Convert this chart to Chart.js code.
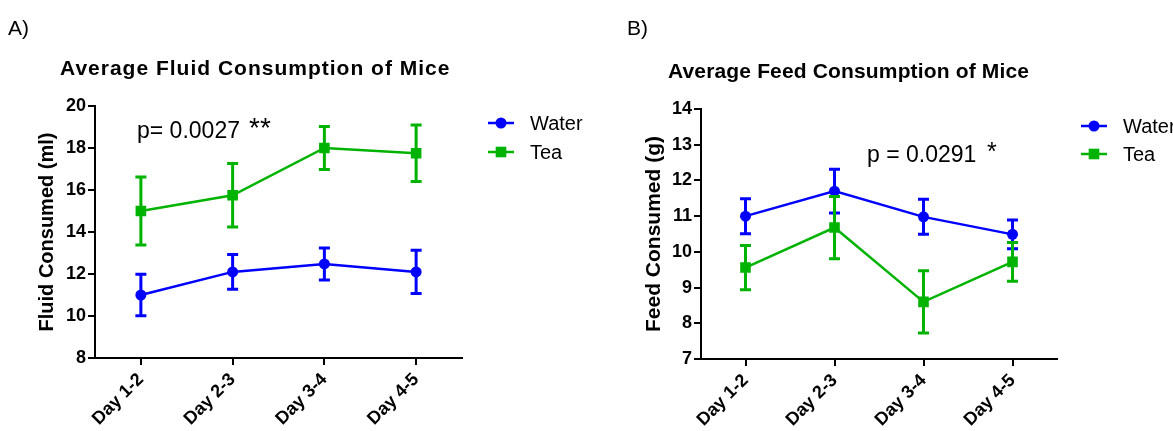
<!DOCTYPE html>
<html>
<head>
<meta charset="utf-8">
<script src="https://cdn.jsdelivr.net/npm/chart.js@4/dist/chart.umd.min.js"></script>
<style>
  body { margin: 0; background: #fff; }
  #wrap { position: relative; width: 1173px; height: 431px; overflow: hidden; font-family: 'Liberation Sans', Arial, sans-serif; }
  canvas { position: absolute; left: 0; top: 0; }
  .lbl { position: absolute; white-space: nowrap; line-height: 1; color: #000; }
  .panel { font-size: 21px; }
  .title { font-size: 21px; font-weight: bold; }
</style>
</head>
<body>
<div id="wrap">
  <canvas id="fluidChart" width="1173" height="431"></canvas>
  <canvas id="feedChart" width="1173" height="431"></canvas>
  <div class="lbl panel" style="left:8px; top:17px;">A)</div>
  <div class="lbl panel" style="left:627px; top:17px;">B)</div>
  <div class="lbl title" style="left:60px; top:57px; letter-spacing:1px;">Average Fluid Consumption of Mice</div>
  <div class="lbl title" style="left:668px; top:60px; letter-spacing:0.15px;">Average Feed Consumption of Mice</div>
</div>
<script>
const categories = ['Day 1-2', 'Day 2-3', 'Day 3-4', 'Day 4-5'];

// A) fluid (ml), mean and error bar half-length
const fluidWater = [11.0, 12.1, 12.48, 12.1];
const fluidWaterErr = [0.99, 0.83, 0.76, 1.03];
const fluidTea = [15.0, 15.75, 18.0, 17.75];
const fluidTeaErr = [1.62, 1.51, 1.02, 1.34];
const fluidTicks = [8, 10, 12, 14, 16, 18, 20];

// B) feed (g)
const feedWater = [11.0, 11.7, 10.98, 10.49];
const feedWaterErr = [0.49, 0.61, 0.49, 0.40];
const feedTea = [9.56, 10.68, 8.60, 9.72];
const feedTeaErr = [0.62, 0.87, 0.87, 0.54];
const feedTicks = [7, 8, 9, 10, 11, 12, 13, 14];

const BLUE = '#0000ff';
const GREEN = '#00b300';
const FONT = "'Liberation Sans', Arial, sans-serif";

// error bars, drawn right after each dataset so layering follows dataset order
const errorBars = {
  id: 'errorBars',
  afterDatasetDraw(chart, args) {
    const ds = chart.data.datasets[args.index];
    if (!ds.errors) return;
    const { ctx } = chart;
    const x = chart.scales.x, y = chart.scales.y;
    ctx.save();
    ctx.strokeStyle = ds.borderColor;
    ctx.lineWidth = 3;
    ds.data.forEach((v, i) => {
      const px = x.getPixelForValue(i);
      const top = y.getPixelForValue(v + ds.errors[i]);
      const bot = y.getPixelForValue(v - ds.errors[i]);
      ctx.beginPath();
      ctx.moveTo(px, top); ctx.lineTo(px, bot);
      ctx.moveTo(px - 5.5, top); ctx.lineTo(px + 5.5, top);
      ctx.moveTo(px - 5.5, bot); ctx.lineTo(px + 5.5, bot);
      ctx.stroke();
    });
    ctx.restore();
  }
};

// legend with line + marker, like the original
const lineLegend = {
  id: 'lineLegend',
  afterDraw(chart, args, opts) {
    const { ctx } = chart;
    ctx.save();
    chart.data.datasets.forEach((ds, i) => {
      const cy = opts.y + i * opts.gap;
      ctx.strokeStyle = ds.borderColor;
      ctx.lineWidth = 2.5;
      ctx.beginPath();
      ctx.moveTo(opts.x - 13, cy);
      ctx.lineTo(opts.x + 13, cy);
      ctx.stroke();
      ctx.fillStyle = ds.borderColor;
      Chart.helpers.drawPoint(ctx, { pointStyle: ds.pointStyle, radius: ds.pointRadius, rotation: 0, borderWidth: 0 }, opts.x, cy);
      ctx.fillStyle = '#000';
      ctx.font = '20px ' + FONT;
      ctx.textBaseline = 'middle';
      ctx.fillText(ds.label, opts.x + 29, cy + 1);
    });
    ctx.restore();
  }
};

const pText = {
  id: 'pText',
  afterDraw(chart, args, opts) {
    const { ctx } = chart;
    ctx.save();
    ctx.fillStyle = '#000';
    ctx.textBaseline = 'alphabetic';
    opts.items.forEach(t => {
      ctx.font = t.size + 'px ' + FONT;
      ctx.fillText(t.text, t.x, t.y);
    });
    ctx.restore();
  }
};

function makeChart(id, cfg) {
  const ctx = document.getElementById(id).getContext('2d');
  return new Chart(ctx, {
    type: 'line',
    data: {
      labels: categories,
      datasets: [
        {
          label: 'Water',
          data: cfg.water,
          errors: cfg.waterErr,
          borderColor: BLUE,
          backgroundColor: BLUE,
          borderWidth: 2.5,
          pointStyle: 'circle',
          pointRadius: 5.5,
          pointBorderWidth: 0,
          order: 1,
        },
        {
          label: 'Tea',
          data: cfg.tea,
          errors: cfg.teaErr,
          borderColor: GREEN,
          backgroundColor: GREEN,
          borderWidth: 2.5,
          pointStyle: 'rect',
          pointRadius: 7.5,
          pointBorderWidth: 0,
          order: 0,
        },
      ],
    },
    options: {
      responsive: false,
      animation: false,
      devicePixelRatio: 1,
      layout: { padding: cfg.padding },
      plugins: {
        legend: { display: false },
        tooltip: { enabled: false },
        lineLegend: cfg.legend,
        pText: { items: cfg.notes },
      },
      scales: {
        x: {
          type: 'category',
          offset: true,
          afterFit: (s) => { s.height = cfg.xHeight; },
          border: { display: true, color: '#000', width: 2 },
          grid: { offset: false, drawOnChartArea: false, drawTicks: true, tickLength: 7, color: '#000', lineWidth: 2 },
          ticks: {
            color: '#000',
            font: { family: FONT, size: 18, weight: 'bold' },
            minRotation: 45,
            maxRotation: 45,
            autoSkip: false,
            padding: 4,
          },
        },
        y: {
          min: cfg.ticks[0],
          max: cfg.ticks[cfg.ticks.length - 1],
          afterFit: (s) => { s.width = cfg.yWidth; },
          afterBuildTicks: (s) => { s.ticks = cfg.ticks.map(v => ({ value: v })); },
          border: { display: true, color: '#000', width: 2 },
          grid: { drawOnChartArea: false, drawTicks: true, tickLength: 7, color: '#000', lineWidth: 2 },
          ticks: {
            color: '#000',
            font: { family: FONT, size: 18, weight: 'bold' },
            padding: 2,
          },
          title: {
            display: true,
            text: cfg.yTitle,
            color: '#000',
            font: { family: FONT, size: cfg.yTitleSize, weight: 'bold' },
            padding: { top: cfg.yTitlePad },
          },
        },
      },
    },
    plugins: [errorBars, lineLegend, pText],
  });
}

makeChart('fluidChart', {
  water: fluidWater, waterErr: fluidWaterErr,
  tea: fluidTea, teaErr: fluidTeaErr,
  ticks: fluidTicks,
  yTitle: 'Fluid Consumed (ml)',
  yTitleSize: 20,
  yTitlePad: 35,
  padding: { left: 0, right: 711, top: 106, bottom: 0 },
  yWidth: 95,
  xHeight: 73,
  legend: { x: 501, y: 123, gap: 29 },
  notes: [
    { text: 'p= 0.0027', x: 137, y: 138, size: 23 },
    { text: '**', x: 249, y: 137, size: 28 },
  ],
});

makeChart('feedChart', {
  water: feedWater, waterErr: feedWaterErr,
  tea: feedTea, teaErr: feedTeaErr,
  ticks: feedTicks,
  yTitle: 'Feed Consumed (g)',
  yTitleSize: 21,
  yTitlePad: 56,
  padding: { left: 586, right: 116, top: 109, bottom: 0 },
  yWidth: 115,
  xHeight: 72,
  legend: { x: 1094, y: 126, gap: 28 },
  notes: [
    { text: 'p = 0.0291', x: 867, y: 162, size: 23 },
    { text: '*', x: 987, y: 160, size: 25 },
  ],
});
</script>
</body>
</html>
